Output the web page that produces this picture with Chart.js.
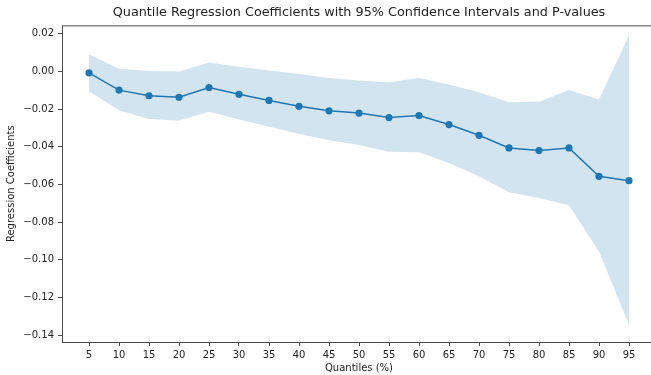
<!DOCTYPE html>
<html>
<head>
<meta charset="utf-8">
<script src="https://cdn.jsdelivr.net/npm/chart.js@4"></script>
<style>
  html, body { margin: 0; padding: 0; background: #fff; }
  #wrap { width: 651px; height: 375px; overflow: hidden; }
  canvas { display: block; }
</style>
</head>
<body>
<div id="wrap"><canvas id="qrChart" width="660" height="375"></canvas></div>
<script>
const quantiles = [5, 10, 15, 20, 25, 30, 35, 40, 45, 50, 55, 60, 65, 70, 75, 80, 85, 90, 95];
const coefs = [-0.0007, -0.0099, -0.0129, -0.0137, -0.0085, -0.0121, -0.0154, -0.0185, -0.0209, -0.0221,
  -0.0245, -0.0234, -0.0282, -0.0339, -0.0406, -0.0420, -0.0406, -0.0557, -0.0580];
const upperCI = [0.0090, 0.0014, 0.0002, 0.0000, 0.0048, 0.0025, 0.0005, -0.0013, -0.0035, -0.0048,
  -0.0057, -0.0034, -0.0069, -0.0110, -0.0163, -0.0161, -0.0099, -0.0149, 0.0192];
const lowerCI = [-0.0105, -0.0206, -0.0252, -0.0262, -0.0214, -0.0255, -0.0294, -0.0331, -0.0365, -0.0390,
  -0.0427, -0.0429, -0.0486, -0.0557, -0.0642, -0.0672, -0.0711, -0.0956, -0.1346];
const yTicks = [0.02, 0.00, -0.02, -0.04, -0.06, -0.08, -0.10, -0.12, -0.14];

const blue = '#1f77b4';
const font = 'DejaVu Sans';

// matplotlib style frame round the plot area
const boxPlugin = {
  id: 'box',
  afterDraw(chart) {
    const { ctx, chartArea: a } = chart;
    ctx.save();
    ctx.strokeStyle = '#4a4a4a';
    ctx.lineWidth = 1;
    ctx.strokeRect(a.left + 0.5, a.top + 0.5, a.right - a.left, a.bottom - a.top);
    ctx.restore();
  }
};

new Chart(document.getElementById('qrChart'), {
  type: 'line',
  data: {
    datasets: [
      { label: 'upper', data: quantiles.map((q, i) => ({ x: q, y: upperCI[i] })),
        borderWidth: 0, pointRadius: 0, fill: '+1', backgroundColor: 'rgba(31,119,180,0.2)', tension: 0 },
      { label: 'lower', data: quantiles.map((q, i) => ({ x: q, y: lowerCI[i] })),
        borderWidth: 0, pointRadius: 0, fill: false, tension: 0 },
      { label: 'Coefficient', data: quantiles.map((q, i) => ({ x: q, y: coefs[i] })),
        borderColor: blue, backgroundColor: blue, borderWidth: 1.5,
        pointRadius: 3.6, pointBackgroundColor: blue, pointBorderWidth: 0, fill: false, tension: 0 }
    ]
  },
  options: {
    responsive: false,
    animation: false,
    layout: { padding: { left: 0, right: 1, top: 0, bottom: 0 } },
    plugins: {
      legend: { display: false },
      tooltip: { enabled: false },
      title: {
        display: true,
        fullSize: false,
        text: 'Quantile Regression Coefficients with 95% Confidence Intervals and P-values',
        color: '#222',
        font: { family: font, size: 12.8, weight: 'normal' },
        padding: { top: 5, bottom: 5 }
      }
    },
    scales: {
      x: {
        type: 'linear',
        min: 0.5,
        max: 99.5,
        afterBuildTicks: s => { s.ticks = quantiles.map(v => ({ value: v })); },
        afterFit: s => { s.height = 33; },
        border: { display: false },
        grid: { drawOnChartArea: false, drawTicks: true, tickLength: 4, tickColor: '#4a4a4a' },
        ticks: { color: '#222', font: { family: font, size: 10 }, padding: 3, maxRotation: 0, autoSkip: false,
          callback: v => String(v) },
        title: { display: true, text: 'Quantiles (%)', color: '#222', font: { family: font, size: 10 }, padding: { top: 2, bottom: 1 } }
      },
      y: {
        min: -0.1437,
        max: 0.0245,
        afterBuildTicks: s => { s.ticks = yTicks.map(v => ({ value: v })); },
        afterFit: s => { s.width = 62; },
        border: { display: false },
        grid: { drawOnChartArea: false, drawTicks: true, tickLength: 4, tickColor: '#4a4a4a' },
        ticks: { color: '#222', font: { family: font, size: 10 }, padding: 4,
          callback: v => (v < 0 ? '\u2212' : '') + Math.abs(v).toFixed(2) },
        title: { display: true, text: 'Regression Coefficients', color: '#222', font: { family: font, size: 10 }, padding: { top: 5, bottom: 0 } }
      }
    }
  },
  plugins: [boxPlugin]
});
</script>
</body>
</html>
